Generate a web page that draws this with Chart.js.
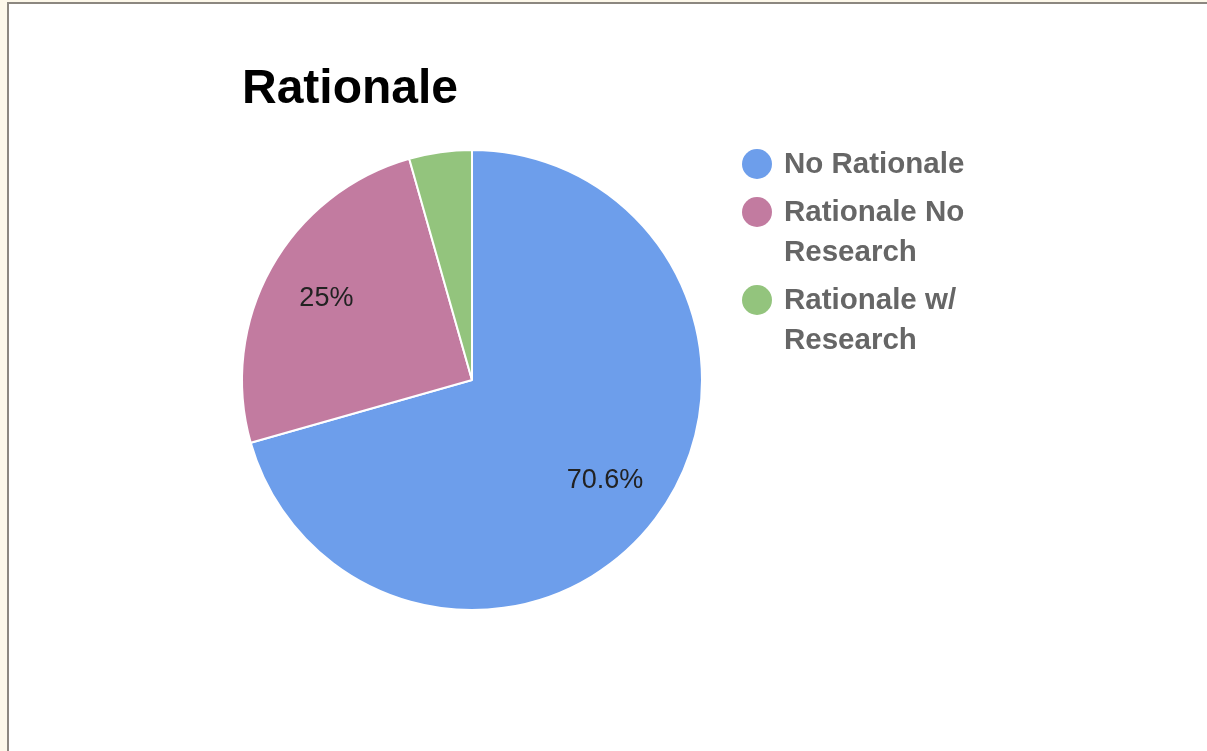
<!DOCTYPE html>
<html>
<head>
<meta charset="utf-8">
<script src="https://cdn.jsdelivr.net/npm/chart.js@4/dist/chart.umd.min.js"></script>
<style>
  html, body { margin: 0; padding: 0; background: #fdf8ea; }
  #frame {
    position: absolute; left: 7px; top: 2px; width: 1300px; height: 800px;
    background: #fff; border-left: 2px solid #8c8780; border-top: 2px solid #8c8780;
  }
  #wrap { position: absolute; left: 0; top: 0; width: 1207px; height: 751px; }
</style>
</head>
<body>
<div id="frame"></div>
<div id="wrap"><canvas id="chart"></canvas></div>
<script>
const chartTitle = 'Rationale';
const categories = ['No Rationale', 'Rationale No Research', 'Rationale w/ Research'];
const values = [70.6, 25, 4.4];
const sliceColors = ['#6d9eeb', '#c27ba0', '#93c47d'];

const FONT = '"Liberation Sans", Arial, sans-serif';

// title, slice labels and the wrapped legend are drawn here
const extras = {
  id: 'extras',
  afterDatasetsDraw(chart) {
    const ctx = chart.ctx;
    const meta = chart.getDatasetMeta(0);
    const data = chart.data.datasets[0].data;
    const total = data.reduce((a, b) => a + b, 0);

    ctx.save();
    // percentage labels
    ctx.font = '27px ' + FONT;
    ctx.fillStyle = '#222';
    ctx.textAlign = 'center';
    ctx.textBaseline = 'middle';
    meta.data.forEach((arc, i) => {
      const pct = data[i] / total * 100;
      if (pct < 5) return;
      const mid = (arc.startAngle + arc.endAngle) / 2;
      const r = arc.outerRadius * 0.725;
      const txt = (Math.round(pct * 10) / 10) + '%';
      ctx.fillText(txt, arc.x + Math.cos(mid) * r, arc.y + Math.sin(mid) * r);
    });

    // title
    ctx.font = 'bold 48px ' + FONT;
    ctx.fillStyle = '#000';
    ctx.textAlign = 'left';
    ctx.textBaseline = 'alphabetic';
    ctx.fillText(chartTitle, 242, 103);

    // legend
    ctx.font = 'bold 29.5px ' + FONT;
    ctx.textBaseline = 'middle';
    let y = 164;
    chart.data.labels.forEach((label, i) => {
      const words = label.split(' ');
      const lines = [];
      let cur = '';
      words.forEach(w => {
        const test = cur ? cur + ' ' + w : w;
        if (ctx.measureText(test).width > 200 && cur) {
          lines.push(cur);
          cur = w;
        } else {
          cur = test;
        }
      });
      lines.push(cur);

      ctx.fillStyle = chart.data.datasets[0].backgroundColor[i];
      ctx.beginPath();
      ctx.arc(757, y, 15, 0, Math.PI * 2);
      ctx.fill();

      ctx.fillStyle = '#666';
      lines.forEach((ln, k) => {
        ctx.fillText(ln, 784, y + k * 40 + 1);
      });
      y += lines.length * 40 + 8;
    });
    ctx.restore();
  }
};

new Chart(document.getElementById('chart'), {
  type: 'pie',
  data: {
    labels: categories,
    datasets: [{
      data: values,
      backgroundColor: sliceColors,
      borderColor: '#fff',
      borderWidth: 2
    }]
  },
  options: {
    responsive: true,
    maintainAspectRatio: false,
    animation: false,
    events: [],
    layout: { padding: { left: 241, top: 149, right: 504, bottom: 140 } },
    plugins: {
      legend: { display: false },
      title: { display: false },
      tooltip: { enabled: false }
    }
  },
  plugins: [extras]
});
</script>
</body>
</html>
